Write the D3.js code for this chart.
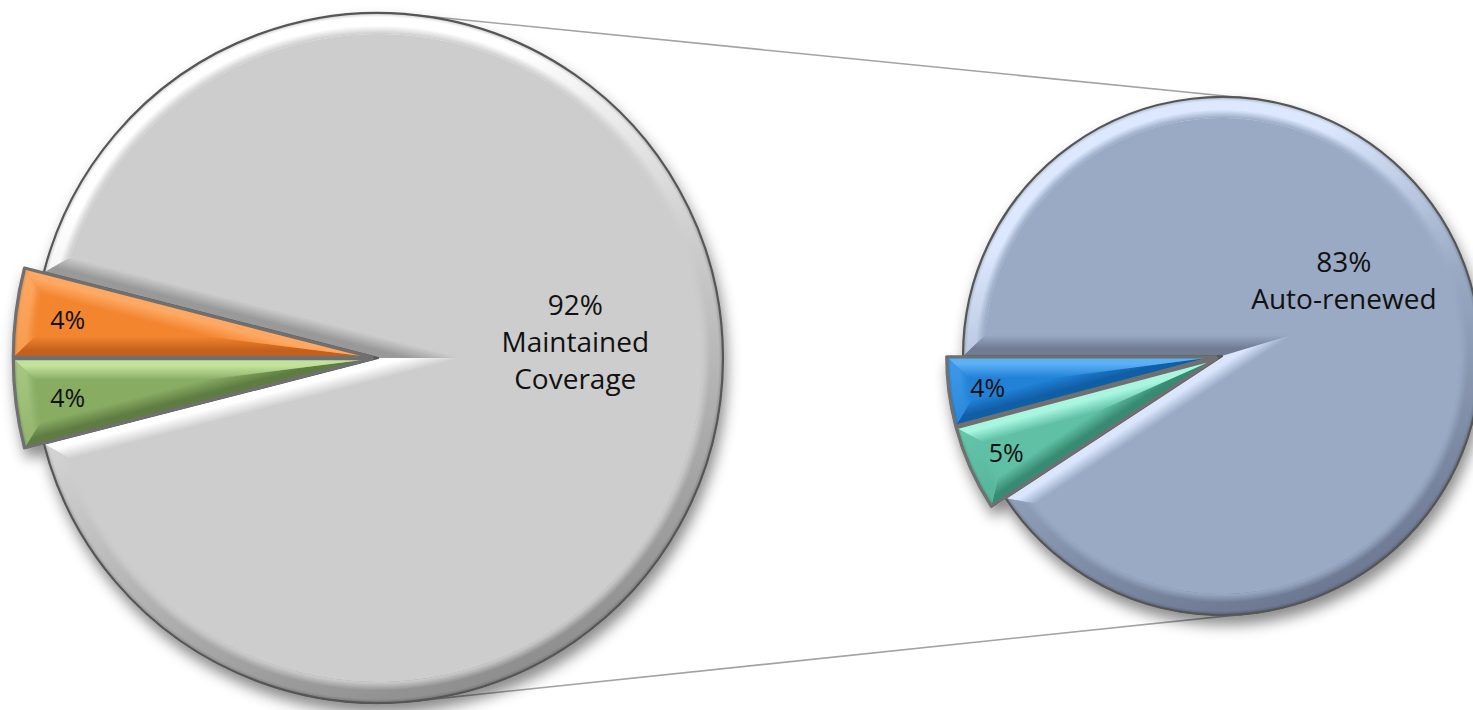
<!DOCTYPE html>
<html><head><meta charset="utf-8">
<script src="https://cdn.jsdelivr.net/npm/d3@7"></script>
<style>html,body{margin:0;padding:0;background:#fff;overflow:hidden}</style>
</head><body>
<svg id="chart" width="1473" height="710"></svg>
<script>
// ---------------- DATA ----------------
const primaryCategories = ["Maintained Coverage", "Category 3", "Category 2"];
const primaryValues = [92, 4, 4];
const secondaryCategories = ["Auto-renewed", "Category 5", "Category 4"];
const secondaryValues = [83.4, 4.7, 3.8];

// ---------------- STYLE ----------------
const primaryColors = [
  {face:"#cdcdcd", hi:"#ffffff", sh:"#8e8e8e"},
  {face:"#89ac64", hi:"#c6e6a0", sh:"#5e7d42"},
  {face:"#f3852f", hi:"#ffb16f", sh:"#c25f1a"}
];
const secondaryColors = [
  {face:"#9aaac4", hi:"#dbe8ff", sh:"#6c7891"},
  {face:"#5fc0a5", hi:"#a8f6e0", sh:"#388a72"},
  {face:"#2182d8", hi:"#5fb3f6", sh:"#115ea6"}
];
const cfgPrimary = {cx:378, cy:358, r:345, labelAngle:85, labelR:0.574};
const cfgSecondary = {cx:1222, cy:356, r:259, labelAngle:58, labelR:0.555};
const BEVEL = 21, SMALL_SCALE = 1.04, SMALL_SHIFT = 6;
const FONT = "'Open Sans', 'Noto Sans', sans-serif";

const svg = d3.select("#chart");
const defs = svg.append("defs");
const f = defs.append("filter").attr("id","shadow")
  .attr("x","-15%").attr("y","-15%").attr("width","135%").attr("height","140%");
f.append("feDropShadow").attr("dx",3).attr("dy",9).attr("stdDeviation",7)
  .attr("flood-color","#000").attr("flood-opacity",0.45);

const Lm = Math.hypot(-0.35,-0.94), LV = [-0.35/Lm, -0.94/Lm];
function shade(c, s){ return s>=0 ? d3.interpolateRgb(c.face, c.hi)(s) : d3.interpolateRgb(c.face, c.sh)(-s); }
let gid = 0;
function linGrad(p1, p2, stops){
  const id = "lg"+(gid++);
  const g = defs.append("linearGradient").attr("id",id).attr("gradientUnits","userSpaceOnUse")
    .attr("x1",p1[0]).attr("y1",p1[1]).attr("x2",p2[0]).attr("y2",p2[1]);
  stops.forEach(([o,c,op]) => g.append("stop").attr("offset",o).attr("stop-color",c).attr("stop-opacity",op==null?1:op));
  return `url(#${id})`;
}
function radGrad(r, stops){
  const id = "rg"+(gid++);
  const g = defs.append("radialGradient").attr("id",id).attr("gradientUnits","userSpaceOnUse")
    .attr("cx",0).attr("cy",0).attr("r",r);
  stops.forEach(([o,c,op]) => g.append("stop").attr("offset",o).attr("stop-color",c).attr("stop-opacity",op==null?1:op));
  return `url(#${id})`;
}
const dir = a => [Math.sin(a), -Math.cos(a)];
const pt = (rad, a) => { const d = dir(a); return [rad*d[0], rad*d[1]]; };

// connector lines (external tangents of the two pies)
(function(){
  const dx = cfgSecondary.cx - cfgPrimary.cx, dy = cfgSecondary.cy - cfgPrimary.cy;
  const d = Math.hypot(dx,dy), beta = Math.atan2(dy,dx), gam = Math.acos((cfgPrimary.r - cfgSecondary.r)/d);
  [beta-gam, beta+gam].forEach(t => {
    svg.append("line")
      .attr("x1", cfgPrimary.cx + cfgPrimary.r*Math.cos(t)).attr("y1", cfgPrimary.cy + cfgPrimary.r*Math.sin(t))
      .attr("x2", cfgSecondary.cx + cfgSecondary.r*Math.cos(t)).attr("y2", cfgSecondary.cy + cfgSecondary.r*Math.sin(t))
      .attr("stroke","#a3a3a3").attr("stroke-width",1.6);
  });
})();

function drawPie(cfg, categories, values, colors){
  const total = d3.sum(values);
  const start = Math.PI/2 - Math.PI*values[0]/total;
  const startAngle = cfg === cfgPrimary ? start : -Math.PI/2;
  const pie = d3.pie().sort(null).value(d => d.value).startAngle(startAngle).endAngle(startAngle + 2*Math.PI);
  const data = categories.map((c,i) => ({category:c, value:values[i], color:colors[i]}));
  const arcs = pie(data);
  const g = svg.append("g").attr("filter","url(#shadow)");
  const labels = [];
  arcs.forEach(d => {
    const big = d.index === 0;
    const c = d.data.color;
    const a0 = d.startAngle, a1 = d.endAngle, mid = (a0+a1)/2, h = (a1-a0)/2;
    const R = big ? cfg.r : cfg.r*SMALL_SCALE;
    const shift = big ? 0 : SMALL_SHIFT;
    const ax = cfg.cx + shift*Math.sin(mid), ay = cfg.cy - shift*Math.cos(mid);
    const sg = g.append("g").attr("transform", `translate(${ax},${ay})`);
    const arcGen = d3.arc().innerRadius(0).outerRadius(R);
    sg.append("path").attr("d", arcGen(d)).attr("fill", c.face);

    const w = BEVEL;
    const Ap = pt(w/Math.sin(h), mid);
    const del = Math.asin(w/(R-w));
    const E0 = pt(R,a0), E1 = pt(R,a1), E0i = pt(R-w,a0+del), E1i = pt(R-w,a1-del);
    // edge facets
    [[E0,E0i,[-Math.cos(a0),-Math.sin(a0)]],[E1,E1i,[Math.cos(a1),Math.sin(a1)]]].forEach(([E,Ei,n]) => {
      const s = n[0]*LV[0] + n[1]*LV[1];
      const P = [E[0]/2, E[1]/2];
      const fill = linGrad(P, [P[0]-n[0]*w, P[1]-n[1]*w],
        [[0, shade(c,s)],[0.35, shade(c,s)],[1, c.face]]);
      const p = d3.path(); p.moveTo(0,0); p.lineTo(E[0],E[1]); p.lineTo(Ei[0],Ei[1]); p.lineTo(Ap[0],Ap[1]); p.closePath();
      sg.append("path").attr("d", p.toString()).attr("fill", fill);
    });
    // arc facet
    const pa = d3.path();
    pa.moveTo(E0[0],E0[1]);
    pa.arc(0,0,R,a0-Math.PI/2,a1-Math.PI/2,false);
    pa.lineTo(E1i[0],E1i[1]);
    pa.arc(0,0,R-w,a1-del-Math.PI/2,a0+del-Math.PI/2,true);
    pa.closePath();
    const base = linGrad([R*LV[0],R*LV[1]],[-R*LV[0],-R*LV[1]],[[0,c.hi],[0.15,c.hi],[0.5,c.face],[1,c.sh]]);
    sg.append("path").attr("d", pa.toString()).attr("fill", base);
    const over = radGrad(R, [[(R-w)/R, c.face, 1],[(R-0.6*w)/R, c.face, 0],[(R-0.2*w)/R,"#000",0],[1,"#000",0.2]]);
    sg.append("path").attr("d", pa.toString()).attr("fill", over);
    // outline
    sg.append("path").attr("d", arcGen(d)).attr("fill","none")
      .attr("stroke", big ? "#565656" : "#6f6f6f").attr("stroke-width", big ? 2.2 : 3.2)
      .attr("stroke-linejoin","round");
    const pct = Math.round(d.value) + "%";
    if (big) {
      const lp = pt(cfg.r*cfg.labelR, cfg.labelAngle*Math.PI/180);
      labels.push({x:cfg.cx+lp[0], y:cfg.cy+lp[1], lines:[pct, ...d.data.category.split(" ")], size:28});
    } else {
      const lp = pt(R*0.855, mid);
      labels.push({x:ax+lp[0], y:ay+lp[1], lines:[pct], size:25});
    }
  });
  labels.forEach(l => {
    const lh = 37, n = l.lines.length;
    const t = svg.append("text").attr("font-family",FONT).attr("font-size",l.size).attr("fill","#111")
      .attr("text-anchor","middle");
    l.lines.forEach((s,i) => t.append("tspan").attr("x",l.x).attr("y", l.y + (i-(n-1)/2)*lh)
      .attr("dominant-baseline","central").text(s));
  });
}
drawPie(cfgPrimary, primaryCategories, primaryValues, primaryColors);
drawPie(cfgSecondary, secondaryCategories, secondaryValues, secondaryColors);
</script>
</body></html>
